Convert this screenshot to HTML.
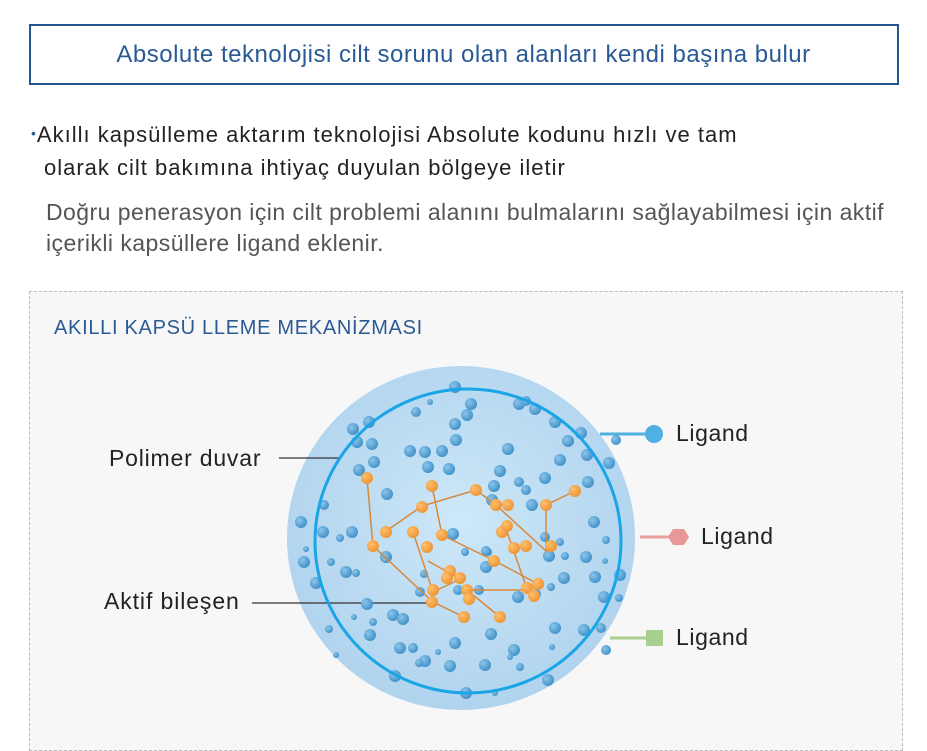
<!DOCTYPE html>
<html><head><meta charset="utf-8"><style>
body{margin:0;width:927px;height:740px;background:#fff;font-family:"Liberation Sans",sans-serif;overflow:hidden;position:relative}
.t{position:absolute;white-space:nowrap}
</style></head><body>
<div style="position:absolute;left:29px;top:24px;width:870px;height:61px;border:2px solid #24558e;box-sizing:border-box"></div>
<div class="t" style="left:0;width:927px;text-align:center;top:41px;font-size:24px;color:#2a5a95;letter-spacing:0.5px">Absolute teknolojisi cilt sorunu olan alanları kendi başına bulur</div>
<div class="t" style="left:31px;top:122px;font-size:22px;color:#222;letter-spacing:1px"><span style="color:#2a5a95;font-size:14px;vertical-align:4px">•</span>Akıllı kapsülleme aktarım teknolojisi Absolute kodunu hızlı ve tam</div>
<div class="t" style="left:44px;top:155px;font-size:22px;color:#222;letter-spacing:1px">olarak cilt bakımına ihtiyaç duyulan bölgeye iletir</div>
<div class="t" style="left:46px;top:199px;font-size:23px;color:#555;letter-spacing:0.45px">Doğru penerasyon için cilt problemi alanını bulmalarını sağlayabilmesi için aktif</div>
<div class="t" style="left:46px;top:230px;font-size:23px;color:#555;letter-spacing:0.45px">içerikli kapsüllere ligand eklenir.</div>
<div style="position:absolute;left:29px;top:291px;width:874px;height:460px;border:1px dashed #bbb;background:#f7f7f7;box-sizing:border-box"></div>
<div class="t" style="left:54px;top:317px;font-size:20px;color:#2a5a95;letter-spacing:0.7px">AKILLI KAPSÜ LLEME MEKANİZMASI</div>
<div class="t" style="left:109px;top:445px;font-size:23px;color:#222;letter-spacing:0.8px">Polimer duvar</div>
<div class="t" style="left:104px;top:588px;font-size:23px;color:#222;letter-spacing:0.9px">Aktif bileşen</div>
<div class="t" style="left:676px;top:420px;font-size:23px;color:#222;letter-spacing:0.6px">Ligand</div>
<div class="t" style="left:701px;top:523px;font-size:23px;color:#222;letter-spacing:0.6px">Ligand</div>
<div class="t" style="left:676px;top:624px;font-size:23px;color:#222;letter-spacing:0.6px">Ligand</div>
<svg width="927" height="740" style="position:absolute;left:0;top:0">
<defs><radialGradient id="g" cx="0.5" cy="0.45" r="0.55"><stop offset="0" stop-color="#cde8f8"/><stop offset="1" stop-color="#b0d3ee"/></radialGradient>
<radialGradient id="b" cx="0.35" cy="0.35" r="0.7"><stop offset="0" stop-color="#8cc4ea"/><stop offset="1" stop-color="#3e90c8"/></radialGradient>
<radialGradient id="o" cx="0.35" cy="0.35" r="0.7"><stop offset="0" stop-color="#fdc070"/><stop offset="1" stop-color="#ef9230"/></radialGradient></defs>
<ellipse cx="461" cy="538" rx="174" ry="172" fill="url(#g)"/>
<line x1="600" y1="434" x2="652" y2="434" stroke="#4fb0e2" stroke-width="3"/><circle cx="654" cy="434" r="9" fill="#4fb0e2"/>
<line x1="640" y1="537" x2="675" y2="537" stroke="#e8a0a0" stroke-width="3"/><polygon points="673,529 684,529 689,537 684,545 673,545 668,537" fill="#e89898"/>
<line x1="610" y1="638" x2="648" y2="638" stroke="#a9cf8e" stroke-width="3"/><rect x="646" y="630" width="17" height="16" fill="#a9cf8e"/>
<line x1="279" y1="458" x2="340" y2="458" stroke="#333" stroke-width="1.2"/>
<line x1="252" y1="603" x2="432" y2="603" stroke="#333" stroke-width="1.2"/>
<g fill="url(#b)">
<circle cx="455" cy="387" r="6"/><circle cx="471" cy="404" r="6"/><circle cx="519" cy="404" r="6"/><circle cx="526" cy="401" r="5"/><circle cx="535" cy="409" r="6"/><circle cx="467" cy="415" r="6"/><circle cx="416" cy="412" r="5"/><circle cx="430" cy="402" r="3"/><circle cx="353" cy="429" r="6"/><circle cx="369" cy="422" r="6"/><circle cx="357" cy="442" r="6"/><circle cx="372" cy="444" r="6"/><circle cx="455" cy="424" r="6"/><circle cx="456" cy="440" r="6"/><circle cx="442" cy="451" r="6"/><circle cx="410" cy="451" r="6"/><circle cx="425" cy="452" r="6"/><circle cx="428" cy="467" r="6"/><circle cx="374" cy="462" r="6"/><circle cx="359" cy="470" r="6"/><circle cx="387" cy="494" r="6"/><circle cx="449" cy="469" r="6"/><circle cx="508" cy="449" r="6"/><circle cx="500" cy="471" r="6"/><circle cx="555" cy="422" r="6"/><circle cx="568" cy="441" r="6"/><circle cx="581" cy="433" r="6"/><circle cx="560" cy="460" r="6"/><circle cx="587" cy="455" r="6"/><circle cx="588" cy="482" r="6"/><circle cx="609" cy="463" r="6"/><circle cx="616" cy="440" r="5"/><circle cx="519" cy="482" r="5"/><circle cx="526" cy="490" r="5"/><circle cx="532" cy="505" r="6"/><circle cx="545" cy="478" r="6"/><circle cx="494" cy="486" r="6"/><circle cx="492" cy="500" r="6"/><circle cx="324" cy="505" r="5"/><circle cx="323" cy="532" r="6"/><circle cx="301" cy="522" r="6"/><circle cx="352" cy="532" r="6"/><circle cx="340" cy="538" r="4"/><circle cx="306" cy="549" r="3"/><circle cx="304" cy="562" r="6"/><circle cx="331" cy="562" r="4"/><circle cx="386" cy="557" r="6"/><circle cx="385" cy="560" r="3"/><circle cx="453" cy="534" r="6"/><circle cx="488" cy="552" r="4"/><circle cx="465" cy="552" r="4"/><circle cx="486" cy="551" r="5"/><circle cx="560" cy="542" r="4"/><circle cx="545" cy="537" r="5"/><circle cx="594" cy="522" r="6"/><circle cx="606" cy="540" r="4"/><circle cx="565" cy="556" r="4"/><circle cx="595" cy="577" r="6"/><circle cx="564" cy="578" r="6"/><circle cx="605" cy="561" r="3"/><circle cx="620" cy="575" r="6"/><circle cx="586" cy="557" r="6"/><circle cx="549" cy="556" r="6"/><circle cx="486" cy="567" r="6"/><circle cx="346" cy="572" r="6"/><circle cx="316" cy="583" r="6"/><circle cx="356" cy="573" r="4"/><circle cx="367" cy="604" r="6"/><circle cx="393" cy="615" r="6"/><circle cx="420" cy="592" r="5"/><circle cx="458" cy="590" r="5"/><circle cx="479" cy="590" r="5"/><circle cx="536" cy="594" r="5"/><circle cx="518" cy="597" r="6"/><circle cx="551" cy="587" r="4"/><circle cx="555" cy="628" r="6"/><circle cx="604" cy="597" r="6"/><circle cx="584" cy="630" r="6"/><circle cx="601" cy="628" r="5"/><circle cx="329" cy="629" r="4"/><circle cx="354" cy="617" r="3"/><circle cx="373" cy="622" r="4"/><circle cx="370" cy="635" r="6"/><circle cx="403" cy="619" r="6"/><circle cx="400" cy="648" r="6"/><circle cx="413" cy="648" r="5"/><circle cx="425" cy="661" r="6"/><circle cx="450" cy="666" r="6"/><circle cx="438" cy="652" r="3"/><circle cx="455" cy="643" r="6"/><circle cx="485" cy="665" r="6"/><circle cx="491" cy="634" r="6"/><circle cx="514" cy="650" r="6"/><circle cx="510" cy="657" r="3"/><circle cx="548" cy="680" r="6"/><circle cx="520" cy="667" r="4"/><circle cx="466" cy="693" r="6"/><circle cx="495" cy="693" r="3"/><circle cx="395" cy="676" r="6"/><circle cx="419" cy="663" r="4"/><circle cx="552" cy="647" r="3"/><circle cx="606" cy="650" r="5"/><circle cx="619" cy="598" r="4"/><circle cx="424" cy="574" r="4"/><circle cx="336" cy="655" r="3"/>
</g>
<g stroke="#d9883a" stroke-width="1.5" fill="none">
<polyline points="367,478 373,546 433,602 464,617"/>
<polyline points="385,532 422,506 476,490 496,505 546,551 546,505 575,491"/>
<polyline points="432,486 442,535 495,561 538,584 527,588"/>
<polyline points="413,532 433,592"/><polyline points="428,561 458,578"/>
<polyline points="456,581 433,592"/><polyline points="467,590 500,617"/>
<polyline points="505,526 527,589"/><polyline points="467,590 526,590"/>
</g>
<g fill="url(#o)">
<circle cx="367" cy="478" r="6"/><circle cx="432" cy="486" r="6"/><circle cx="476" cy="490" r="6"/><circle cx="496" cy="505" r="6"/><circle cx="508" cy="505" r="6"/><circle cx="546" cy="505" r="6"/><circle cx="575" cy="491" r="6"/><circle cx="422" cy="507" r="6"/><circle cx="386" cy="532" r="6"/><circle cx="413" cy="532" r="6"/><circle cx="442" cy="535" r="6"/><circle cx="373" cy="546" r="6"/><circle cx="427" cy="547" r="6"/><circle cx="502" cy="532" r="6"/><circle cx="507" cy="526" r="6"/><circle cx="514" cy="548" r="6"/><circle cx="526" cy="546" r="6"/><circle cx="551" cy="546" r="6"/><circle cx="494" cy="561" r="6"/><circle cx="450" cy="571" r="6"/><circle cx="460" cy="578" r="6"/><circle cx="447" cy="578" r="6"/><circle cx="467" cy="590" r="6"/><circle cx="469" cy="599" r="6"/><circle cx="433" cy="590" r="6"/><circle cx="432" cy="602" r="6"/><circle cx="464" cy="617" r="6"/><circle cx="500" cy="617" r="6"/><circle cx="527" cy="588" r="6"/><circle cx="538" cy="584" r="6"/><circle cx="534" cy="596" r="6"/>
</g>
<ellipse cx="468" cy="541" rx="153" ry="152" fill="none" stroke="#1aa5e6" stroke-width="3"/>
</svg>
</body></html>
